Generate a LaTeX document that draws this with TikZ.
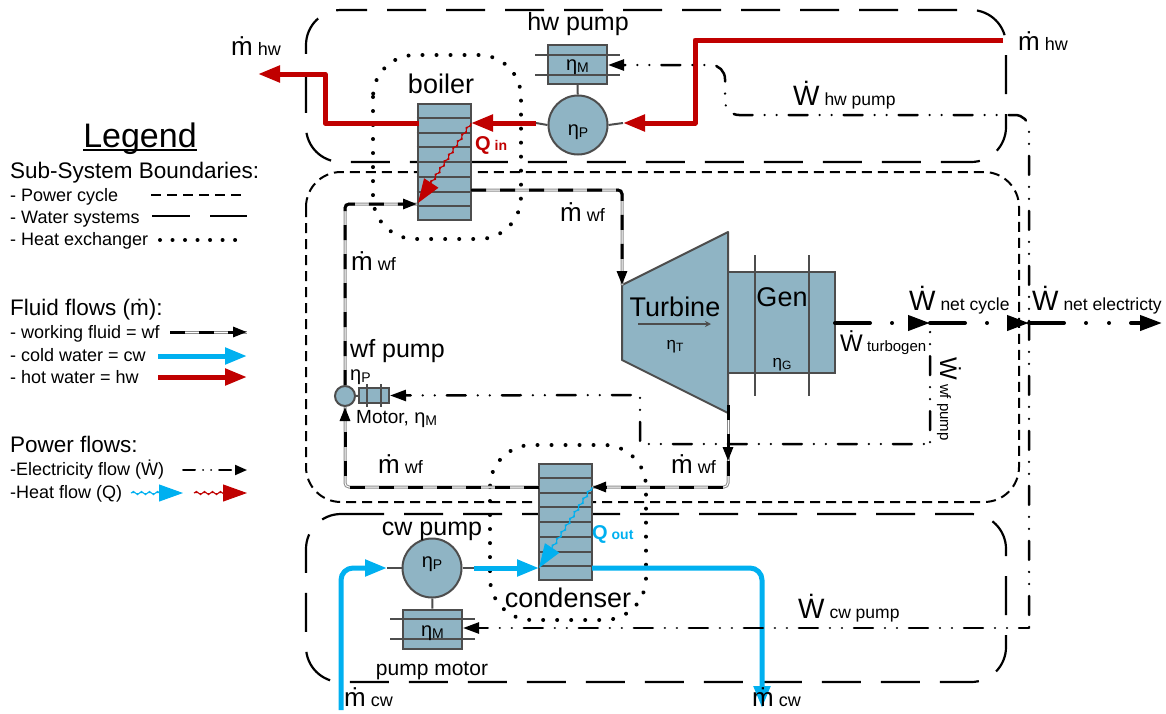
\documentclass[tikz,border=0pt]{standalone}
\usepackage{fontspec}
\setmainfont{Liberation Sans}
\usetikzlibrary{positioning}
\usetikzlibrary{calc}
\usetikzlibrary{arrows.meta}
\usetikzlibrary{decorations.pathmorphing}
\definecolor{unitblue}{RGB}{143,180,196}
\definecolor{unitline}{RGB}{77,77,77}
\definecolor{cwblue}{RGB}{0,176,240}
\definecolor{hwred}{RGB}{192,0,0}
\newcommand{\fs}[1]{\fontsize{#1}{#1}\selectfont}
\newcommand{\mflow}[1]{{\fs{26}\.m}{\fs{18}\ #1}}
\newcommand{\wflow}[1]{{\fs{28}\.W}{\fs{17.5}\ #1}}
\newcommand{\etasub}[1]{{\fs{20}η}{\fs{14}\raisebox{-2pt}{#1}}}
\newcommand{\etasmall}[1]{{\fs{17}η}{\fs{12}\raisebox{-2pt}{#1}}}

\begin{document}
\begin{tikzpicture}[x=1pt,y=-1pt]
        \tikzstyle{lab}=[inner sep=0pt,anchor=base west,text=black]
        \tikzstyle{clab}=[inner sep=0pt,anchor=base,text=black]
        \tikzstyle{unit}=[draw=unitline,fill=unitblue,line width=2pt,inner sep=0pt]
        \tikzstyle{hx}=[unit,minimum width=53pt,minimum height=116pt]
        \tikzstyle{motor}=[unit,minimum width=59pt,minimum height=39pt]
        \tikzstyle{pump}=[unit,circle,minimum size=59pt]
        \tikzstyle{stub}=[draw=unitline,line width=2pt]
        \tikzstyle{water}=[draw=black,line width=2.2pt,dash pattern=on 39pt off 20pt]
        \tikzstyle{legwater}=[water,dash pattern=on 38pt off 20pt]
        \tikzstyle{powercycle}=[draw=black,line width=2pt,dash pattern=on 10pt off 6pt]
        \tikzstyle{hxb}=[draw=black,line width=4pt,line cap=round,dash pattern=on 0.01pt off 14pt]
        \tikzstyle{leghxb}=[hxb,dash pattern=on 0.01pt off 12.5pt]
        \tikzstyle{hw}=[draw=hwred,line width=5pt,line join=round,-{Triangle[length=22pt,width=16pt]}]
        \tikzstyle{cw}=[draw=cwblue,line width=5pt,line join=round,rounded corners=12pt,-{Triangle[length=22pt,width=16pt]}]
        \tikzstyle{wf}=[draw=black!45,line width=3pt,rounded corners=4pt,
            postaction={draw=white,line width=1pt},
            postaction={draw=black,dash pattern=on 15pt off 14pt,-{Triangle[length=14pt,width=10pt]}}]
        \tikzstyle{elec}=[draw=black,line width=2.5pt,line cap=round,rounded corners=14pt,
            dash pattern=on 19pt off 12pt on 0.01pt off 12pt on 0.01pt off 12pt,-{Triangle[length=16pt,width=11pt]}]
        \tikzstyle{net}=[draw=black,line width=4pt,line cap=round,
            dash pattern=on 35pt off 22pt on 0.01pt off 22pt,-{Triangle[length=22pt,width=15pt]}]
        \tikzstyle{heat}=[line width=1pt,decorate,
            decoration={snake,amplitude=1.6pt,segment length=8pt,post length=20pt},
            -{Triangle[length=24pt,width=17pt]}]

        \useasboundingbox (0,0) rectangle (1166,713);

        % Draw the sub-system boundaries
        \draw[water,rounded corners=35pt,dash phase=18pt] (346,10) -- (1006,10) -- (1006,162) -- (306,162) -- (306,10) -- (346,10);
        \draw[powercycle,rounded corners=35pt] (306,172) rectangle (1019,502);
        \draw[water,rounded corners=35pt] (345,514) -- (1006,514) -- (1006,682) -- (306,682) -- (306,514) -- (345,514);

        % Draw the coordinates of the flows
        \coordinate (hwIn) at (1003,40);
        \coordinate (hwRise) at (695,123);
        \coordinate (hwE) at (623,123);
        \coordinate (hwW) at (536,123);
        \coordinate (boilerHot) at (471,123);
        \coordinate (boilerCold) at (419,123);
        \coordinate (hwTurn) at (325,74);
        \coordinate (hwOut) at (258,74);
        \coordinate (boilerQ) at (418,203);
        \coordinate (boilerWfOut) at (471,190);
        \coordinate (turbIn) at (622,285);
        \coordinate (turbOut) at (728,405);
        \coordinate (turbDown) at (728,461);
        \coordinate (condWfIn) at (592,487);
        \coordinate (condWfOut) at (539,487);
        \coordinate (boilerWfIn) at (417,204);
        \coordinate (condQ) at (539,568);
        \coordinate (cwStart) at (341,710);
        \coordinate (cwW) at (387,568);
        \coordinate (cwE) at (474,568);
        \coordinate (condOut) at (592,568);
        \coordinate (cwEnd) at (762,708);
        \coordinate (genOut) at (835,323);
        \coordinate (netA) at (930,323);
        \coordinate (netB) at (1029,323);
        \coordinate (netEnd) at (1162,323);
        \coordinate (busBottom) at (1029,628);
        \coordinate (busTop) at (1029,115);
        \coordinate (hwElecTurn) at (725,65);
        \coordinate (wfElecA) at (932,444);
        \coordinate (wfElecB) at (640,395);

        % Draw the heat exchangers
        \draw[hxb,rounded corners=42pt] (373,55) rectangle (521,239);
        \draw[hxb,rounded corners=42pt] (490,445) rectangle (646,620);
        \node[hx] (boiler) at (444,162) {};
        \node[hx] (condenser) at (565.5,522) {};
        \foreach \name in {boiler,condenser}
            \foreach \k in {1,...,7}
                \draw[stub] ($(\name.north west)!\k/8!(\name.south west)$) -- ($(\name.north east)!\k/8!(\name.south east)$);

        % Draw the pumps and the motors
        \node[motor] (hwMotor) at (577.5,64.5) {};
        \node[pump] (hwPump) at (578,125) {};
        \node[pump] (cwPump) at (432,568) {};
        \node[motor] (cwMotor) at (432.5,629) {};
        \node[unit,circle,minimum size=20pt] (wfPump) at (345,396) {};
        \node[unit,minimum width=30pt,minimum height=15pt] (wfMotor) at (374,395.5) {};
        \draw[stub] (hwMotor) -- (hwPump);
        \draw[stub] (cwPump) -- (cwMotor);
        \draw[stub] (wfPump) -- (wfMotor);
        \draw[stub] (hwPump.east) -- (hwE);
        \draw[stub] (hwPump.west) -- (hwW);
        \draw[stub] (cwPump.west) -- (cwW);
        \draw[stub] (cwPump.east) -- (cwE);
        \foreach \dy in {-10,10} {
            \draw[stub] ([shift={(-12,\dy)}]hwMotor.west) -- ([shift={(12,\dy)}]hwMotor.east);
            \draw[stub] ([shift={(-12,\dy)}]cwMotor.west) -- ([shift={(12,\dy)}]cwMotor.east);
        }
        \foreach \dx in {-7,7}
            \draw[stub] ([shift={(\dx,-3)}]wfMotor.north) -- ([shift={(\dx,3)}]wfMotor.south);
        \node[clab] (lEtaHwM) at (577.5,70) {\etasub{M}};
        \node[clab] (lEtaHwP) at (578,135) {\etasub{P}};
        \node[clab] (lEtaCwP) at (432,567) {\etasub{P}};
        \node[clab] (lEtaCwM) at (432.5,636) {\etasub{M}};

        % Draw the turbine and the generator
        \draw[unit,line join=round] (622,285) -- (728,232) -- (728,413) -- (622,360) -- cycle;
        \node[unit,minimum width=107pt,minimum height=101pt] (gen) at (781.5,322.5) {};
        \foreach \dx in {-27,27}
            \draw[stub] ([shift={(\dx,-16)}]gen.north) -- ([shift={(\dx,22)}]gen.south);
        \coordinate (turbA) at (638,324);
        \coordinate (turbB) at (711,324);
        \draw[stub,-{Stealth[length=6pt,width=6pt]}] (turbA) -- (turbB);

        % Draw the fluid flows
        \draw[hw] (hwIn) -| (hwRise) -- (hwE);
        \draw[hw] (hwW) -- (boilerHot);
        \draw[hw] (boilerCold) -| (hwTurn) -- (hwOut);
        \draw[wf] (boilerWfOut) -| (turbIn);
        \draw[wf] (turbOut) -- (turbDown);
        \draw[wf] (turbDown) |- (condWfIn);
        \draw[wf] (condWfOut) -| (wfPump.south);
        \draw[wf] (wfPump.north) |- (boilerWfIn);
        \draw[cw] (cwStart) |- (cwW);
        \draw[cw] (cwE) -- (condQ);
        \draw[cw] (condOut) -| (cwEnd);
        \draw[heat,draw=hwred,fill=hwred] (boilerHot) -- (boilerQ);
        \draw[heat,draw=cwblue,fill=cwblue] (condWfIn) -- (condQ);

        % Draw the power flows
        \draw[elec,dash phase=42pt] (busBottom) -- (busTop) -- (busTop -| hwElecTurn) -- (hwElecTurn) -- (hwMotor.east |- hwElecTurn);
        \draw[elec,dash phase=9pt] (busBottom) -- (cwMotor.east |- busBottom);
        \draw[elec,dash phase=22pt,rounded corners=0pt] (netA) |- (wfElecA) -| (wfElecB) -- (wfMotor.east);
        \draw[net] (genOut) -- (netA);
        \draw[net] (netA) -- (netB);
        \draw[net,dash pattern=on 35pt off 22pt on 0.01pt off 23pt on 0.01pt off 22pt] (netB) -- (netEnd);

        % Annotate the flows
        \node[lab] (lMhwOut) at (231,55) {\mflow{hw}};
        \node[lab] (lMhwIn) at (1018,50) {\mflow{hw}};
        \node[clab,font=\fs{25}] (lHwPump) at (578,30) {hw pump};
        \node[clab,font=\fs{27}] (lBoiler) at (441,93) {boiler};
        \node[lab] (lWhw) at (793,105) {\wflow{hw pump}};
        \node[lab,text=hwred,font=\bfseries] (lQin) at (475,150) {{\fs{20}Q}{\fs{14}\ in}};
        \node[lab] (lMwf1) at (560,221) {\mflow{wf}};
        \node[lab] (lMwf2) at (351,270) {\mflow{wf}};
        \node[lab,font=\fs{25}] (lWfPump) at (350,357) {wf pump};
        \node[lab] (lWfEta) at (350,380) {\etasub{P}};
        \node[lab,font=\fs{19}] (lWfMotor) at (356,423) {Motor, \etasub{M}};
        \node[clab,font=\fs{27}] (lTurbine) at (675,316) {Turbine};
        \node[clab] (lEtaT) at (675,349) {\etasmall{T}};
        \node[clab,font=\fs{27}] (lGen) at (782,306) {Gen};
        \node[clab] (lEtaG) at (782,367) {\etasmall{G}};
        \node[lab] (lWtg) at (840,351) {{\fs{24}\.W}{\fs{15}\ turbogen}};
        \node[lab] (lWnc) at (909,310) {\wflow{net cycle}};
        \node[lab] (lWne) at (1032,310) {\wflow{net electricty}};
        \node[lab,rotate=-90,anchor=base west] (lWwf) at (940,357) {{\fs{24}\.W}{\fs{15}\ wf pump}};
        \node[lab] (lMwf3) at (378,473) {\mflow{wf}};
        \node[lab] (lMwf4) at (671,473) {\mflow{wf}};
        \node[lab,text=cwblue,font=\bfseries] (lQout) at (592,539) {{\fs{20}Q}{\fs{14}\ out}};
        \node[clab,font=\fs{25}] (lCwPump) at (432,535) {cw pump};
        \node[clab,font=\fs{27}] (lCond) at (568,607) {condenser};
        \node[clab,font=\fs{21}] (lPumpMotor) at (432,675) {pump motor};
        \node[lab] (lWcw) at (798,618) {\wflow{cw pump}};
        \node[lab] (lMcw1) at (344,706) {\mflow{cw}};
        \node[lab] (lMcw2) at (752,706) {\mflow{cw}};

        % Draw the legend
        \node[clab,font=\fs{34}] (lLegend) at (140,147) {Legend};
        \draw[draw=black,line width=2pt] ([yshift=-3pt]lLegend.base west) -- ([yshift=-3pt]lLegend.base east);
        \foreach \name / \y / \size / \txt in {a/178/22.5/Sub-System Boundaries:,b/201/18/- Power cycle,c/223/18/- Water systems,d/245/18/- Heat exchanger,e/315/22.5/Fluid flows (\.m):,f/338/18/- working fluid = wf,g/361/18/- cold water = cw,h/383/18/- hot water = hw,i/452/22.5/Power flows:,j/475/18/-Electricity flow (\.W),k/498/18/-Heat flow (Q)}
            \node[lab,font=\fs{\size}] (leg-\name) at (10,\y) {\txt};
        \foreach \name / \xa / \y / \sty in {a/151/195/powercycle,b/152/216/legwater,c/160/240/leghxb}{
            \coordinate (legS-\name) at (\xa,\y);
            \coordinate (legE-\name) at (247,\y);
            \draw[\sty] (legS-\name) -- (legE-\name);
        }
        \coordinate (legS-wf) at (170,332);
        \coordinate (legE-wf) at (247,332);
        \coordinate (legS-cw) at (158,356);
        \coordinate (legE-cw) at (247,356);
        \coordinate (legS-hw) at (158,377);
        \coordinate (legE-hw) at (247,377);
        \coordinate (legS-el) at (183,470);
        \coordinate (legE-el) at (247,470);
        \coordinate (legS-qc) at (131,493);
        \coordinate (legE-qc) at (183,493);
        \coordinate (legS-qh) at (194,493);
        \coordinate (legE-qh) at (247,493);
        \draw[wf] (legS-wf) -- (legE-wf);
        \draw[cw] (legS-cw) -- (legE-cw);
        \draw[hw] (legS-hw) -- (legE-hw);
        \draw[elec,line width=2pt,dash pattern=on 12pt off 8pt on 0.01pt off 8pt on 0.01pt off 8pt,-{Triangle[length=12pt,width=10pt]}] (legS-el) -- (legE-el);
        \draw[heat,draw=cwblue,fill=cwblue] (legS-qc) -- (legE-qc);
        \draw[heat,draw=hwred,fill=hwred] (legS-qh) -- (legE-qh);
\end{tikzpicture}
\end{document}
